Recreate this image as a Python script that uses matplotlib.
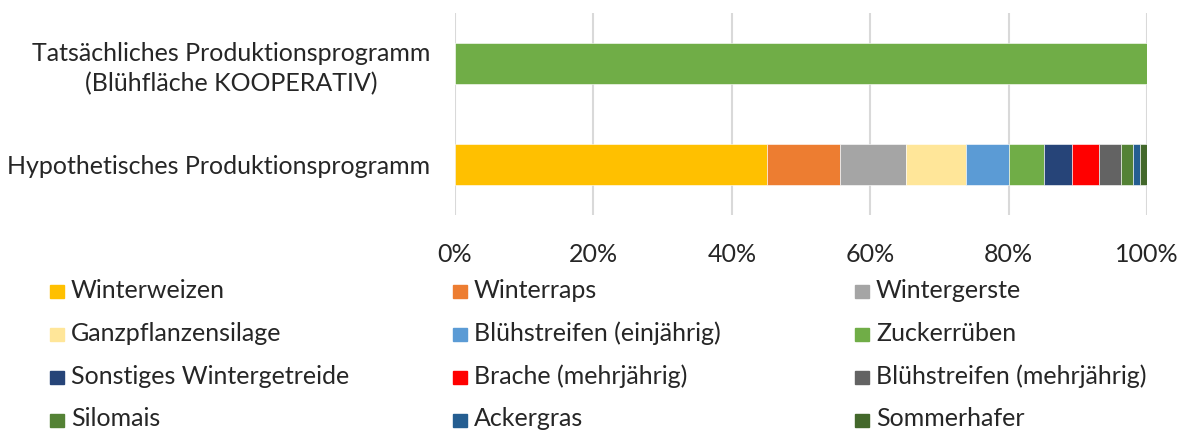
import matplotlib.pyplot as plt
from matplotlib.patches import Rectangle

# categories (bottom to top on the y axis)
programs = ["Hypothetisches Produktionsprogramm",
            "Tatsächliches Produktionsprogramm\n(Blühfläche KOOPERATIV)"]

crops = ["Winterweizen", "Winterraps", "Wintergerste",
         "Ganzpflanzensilage", "Blühstreifen (einjährig)", "Zuckerrüben",
         "Sonstiges Wintergetreide", "Brache (mehrjährig)", "Blühstreifen (mehrjährig)",
         "Silomais", "Ackergras", "Sommerhafer"]

# share in % per crop, [hypothetical, actual]
hypothetical = [45.1, 10.5, 9.5, 8.7, 6.3, 5.0, 4.1, 3.9, 3.1, 1.7, 1.1, 1.0]
actual = [0, 0, 0, 0, 0, 100, 0, 0, 0, 0, 0, 0]

colors = ["#FFC000", "#ED7D31", "#A5A5A5",
          "#FFE699", "#5B9BD5", "#70AD47",
          "#264478", "#FF0000", "#636363",
          "#548235", "#255E91", "#43682B"]

xticks = [0, 20, 40, 60, 80, 100]

plt.rcParams["font.family"] = ["Lato", "DejaVu Sans"]
FS = 18

fig = plt.figure(figsize=(11.79, 4.30), dpi=100)
ax = fig.add_axes([0.3859, 0.5, 0.587, 0.4698])

left = [0.0, 0.0]
for crop, h, a, c in zip(crops, hypothetical, actual, colors):
    vals = [h, a]
    ax.barh([0, 1], vals, left=left, height=0.4, color=c, edgecolor="white", linewidth=0.4, zorder=3)
    left = [l + v for l, v in zip(left, vals)]

ax.set_xlim(0, 100)
ax.set_ylim(-0.5, 1.5)
ax.set_xticks(xticks)
ax.set_xticklabels([f"{t}%" for t in xticks], fontsize=FS, color="#262626")
ax.set_yticks([0, 1])
ax.set_yticklabels(programs, fontsize=FS, color="#262626", multialignment="center",
                   linespacing=1.35)
ax.tick_params(axis="both", length=0)
ax.tick_params(axis="x", pad=20)
ax.tick_params(axis="y", pad=18)
ax.grid(axis="x", color="#D9D9D9", lw=1.5, zorder=0)
for s in ax.spines.values():
    s.set_visible(False)

# legend drawn as a 3-column grid below the axes (last row is cut off by the figure edge)
col_x = [50, 453, 855]
row_y = [291.5, 334.3, 377.1, 420]
W, H = 1179, 430
for i, (crop, c) in enumerate(zip(crops, colors)):
    x = col_x[i % 3]
    y = row_y[i // 3]
    fig.patches.append(Rectangle((x / W, 1 - (y + 6.5) / H), 14 / W, 13 / H,
                                 transform=fig.transFigure, color=c))
    fig.text((x + 21) / W, 1 - (y + 6.5) / H, crop, fontsize=FS, color="#262626",
             va="baseline", ha="left")

fig.savefig("out.png", dpi=100)
